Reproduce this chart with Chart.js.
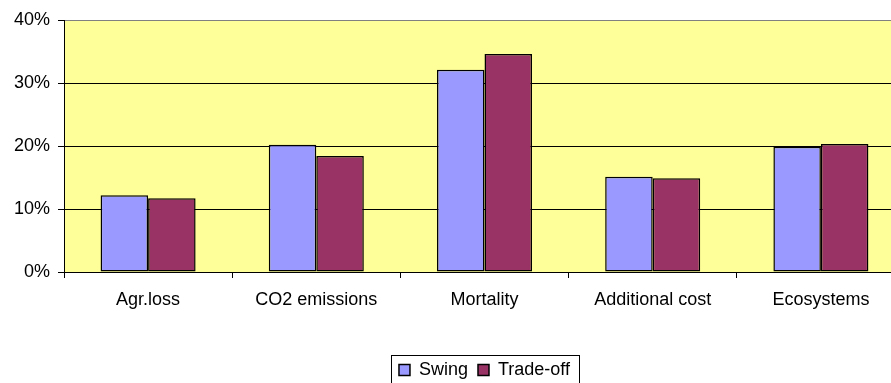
<!DOCTYPE html>
<html>
<head>
<meta charset="utf-8">
<script src="https://cdn.jsdelivr.net/npm/chart.js@4/dist/chart.umd.min.js"></script>
<style>
  html, body { margin: 0; padding: 0; background: #fff; overflow: hidden; }
  #wrap { width: 910px; height: 389px; }
</style>
</head>
<body>
<div id="wrap"><canvas id="chart" width="910" height="389"></canvas></div>
<script>
// Criteria and the weight each method gives them (percent)
const categories = ['Agr.loss', 'CO2 emissions', 'Mortality', 'Additional cost', 'Ecosystems'];
const swing = [12.2, 20.2, 32.1, 15.1, 19.9];
const tradeOff = [11.7, 18.4, 34.6, 14.9, 20.3];
const yTicks = [0, 10, 20, 30, 40];

const FONT = { family: '"Liberation Sans", Arial, sans-serif', size: 18 };

// Yellow plot area fill behind the grid
const plotFill = {
  id: 'plotFill',
  beforeDraw(chart) {
    const { ctx, chartArea: a } = chart;
    ctx.save();
    ctx.fillStyle = '#FFFF99';
    ctx.fillRect(a.left, a.top, a.right - a.left, a.bottom - a.top);
    ctx.restore();
  }
};

// Thin frame around the legend entries
const legendFrame = {
  id: 'legendFrame',
  afterDraw(chart) {
    const lg = chart.legend;
    if (!lg || !lg.legendHitBoxes.length) return;
    const boxes = lg.legendHitBoxes;
    const left = Math.min(...boxes.map(b => b.left)) - 8;
    const right = Math.max(...boxes.map(b => b.left + b.width)) + 9;
    const top = Math.min(...boxes.map(b => b.top)) - 6;
    const bottom = Math.max(...boxes.map(b => b.top + b.height)) + 6;
    const ctx = chart.ctx;
    ctx.save();
    ctx.strokeStyle = '#000';
    ctx.lineWidth = 1;
    ctx.strokeRect(Math.round(left) + 0.5, Math.round(top) + 0.5, Math.round(right - left), Math.round(bottom - top));
    ctx.restore();
  }
};

new Chart(document.getElementById('chart'), {
  type: 'bar',
  data: {
    labels: categories,
    datasets: [
      { label: 'Swing', data: swing, backgroundColor: '#9999FF', borderColor: '#000', borderWidth: 1.5, borderSkipped: false },
      { label: 'Trade-off', data: tradeOff, backgroundColor: '#993366', borderColor: '#000', borderWidth: 1.5, borderSkipped: false }
    ]
  },
  options: {
    responsive: false,
    animation: false,
    events: [],
    layout: { padding: { top: 20, right: 5, left: 0, bottom: 0 } },
    datasets: { bar: { categoryPercentage: 0.565, barPercentage: 1 } },
    plugins: {
      tooltip: { enabled: false },
      legend: {
        position: 'bottom',
        fullSize: false,
        labels: { color: '#000', font: FONT, boxWidth: 11, boxHeight: 11, padding: 10 }
      }
    },
    scales: {
      x: {
        offset: true,
        afterFit(scale) { scale.height = 79; },
        grid: { offset: true, drawOnChartArea: false, drawTicks: true, tickLength: 6, tickColor: '#000' },
        border: { display: true, color: '#000', width: 1 },
        ticks: { color: '#000', font: FONT, padding: 11, maxRotation: 0, autoSkip: false }
      },
      y: {
        min: yTicks[0],
        max: yTicks[yTicks.length - 1],
        afterFit(scale) { scale.width = 64; },
        afterBuildTicks(scale) { scale.ticks = yTicks.map(v => ({ value: v })); },
        grid: {
          color: ctx => (ctx.tick && ctx.tick.value === 40 ? '#808080' : '#000'),
          tickColor: '#000',
          tickLength: 6,
          drawTicks: true
        },
        border: { display: true, color: '#000', width: 1 },
        ticks: { color: '#000', font: FONT, padding: 8, callback: v => v + '%' }
      }
    }
  },
  plugins: [plotFill, legendFrame]
});
</script>
</body>
</html>
